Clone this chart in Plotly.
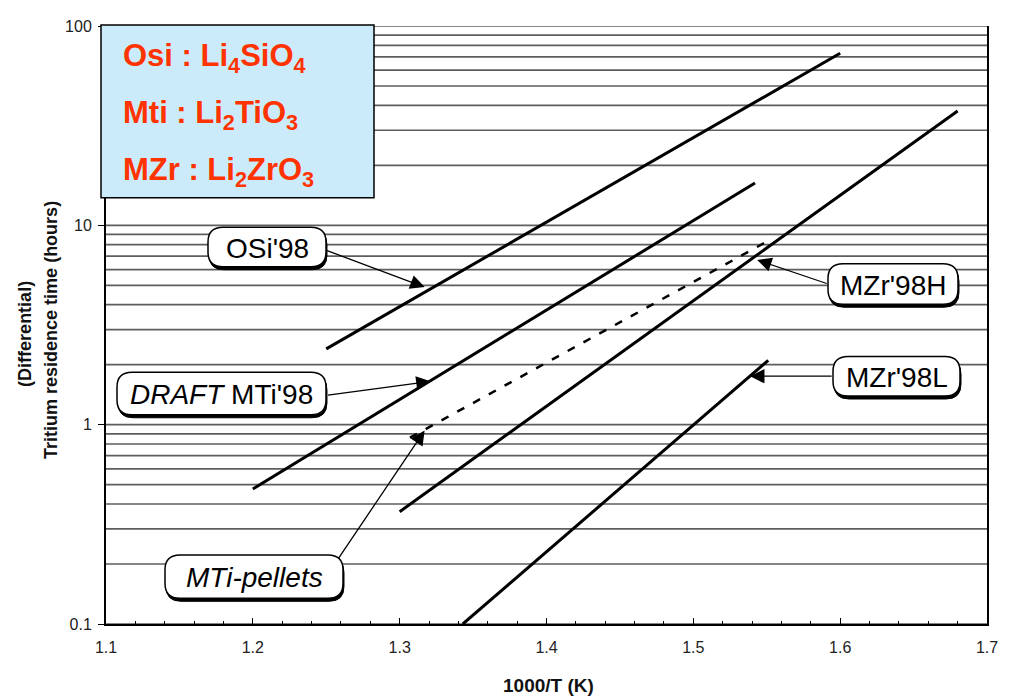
import math
import plotly.graph_objects as go

# ---- data ----
osi_x = [1.25, 1.60]
osi_y = [2.4, 73.0]
mti_x = [1.20, 1.542]
mti_y = [0.476, 16.3]
pellets_x = [1.307, 1.554]
pellets_y = [0.86, 8.6]
mzrh_x = [1.30, 1.68]
mzrh_y = [0.366, 37.5]
mzrl_x = [1.343, 1.551]
mzrl_y = [0.10, 2.10]

x_ticks = [1.1, 1.2, 1.3, 1.4, 1.5, 1.6, 1.7]
y_ticks = [0.1, 1, 10, 100]
y_ticktext = ["0.1", "1", "10", "100"]

# ---- geometry (page has an 8px body margin) ----
OFF = 8
W, H = 1002, 690
L, T = 106 - OFF, 18 - OFF
R = W - (987 - OFF)
B = H - (624 - OFF)
PW, PH = W - L - R, H - T - B


def px(xp):
    return (xp - OFF - L) / PW


def py(yp):
    return (H - B - (yp - OFF)) / PH


def rounded(x0, y0, x1, y1, r):
    def P(a, b):
        return f"{px(a):.5f},{py(b):.5f}"
    return (f"M {P(x0+r, y0)} L {P(x1-r, y0)} Q {P(x1, y0)} {P(x1, y0+r)} "
            f"L {P(x1, y1-r)} Q {P(x1, y1)} {P(x1-r, y1)} L {P(x0+r, y1)} "
            f"Q {P(x0, y1)} {P(x0, y1-r)} L {P(x0, y0+r)} Q {P(x0, y0)} {P(x0+r, y0)} Z")


fig = go.Figure()

# horizontal grid (log minor lines)
gx, gy = [], []
for e in (-1, 0, 1):
    for k in range(1, 10):
        v = k * 10 ** e
        gx += [1.1, 1.7, None]
        gy += [v, v, None]
gx += [1.1, 1.7, None]
gy += [100, 100, None]
fig.add_trace(go.Scatter(x=gx, y=gy, mode="lines", line=dict(color="#5e5e5e", width=1.7),
                         hoverinfo="skip", showlegend=False))

solid = dict(color="black", width=3)
for xs, ys in [(osi_x, osi_y), (mti_x, mti_y), (mzrh_x, mzrh_y), (mzrl_x, mzrl_y)]:
    fig.add_trace(go.Scatter(x=xs, y=ys, mode="lines", line=solid, showlegend=False))
fig.add_trace(go.Scatter(x=pellets_x, y=pellets_y, mode="lines",
                         line=dict(color="black", width=2.5, dash="8px,10px"), showlegend=False))

shapes = []
annotations = []

# legend box
shapes.append(dict(type="rect", xref="paper", yref="paper", x0=px(101), x1=px(374),
                   y0=py(192), y1=py(17), fillcolor="#CCEBFA", line=dict(color="black", width=1.5),
                   layer="above"))
red = "#FF3300"
legend_lines = ["Osi : Li<sub>4</sub>SiO<sub>4</sub>",
                "Mti : Li<sub>2</sub>TiO<sub>3</sub>",
                "MZr : Li<sub>2</sub>ZrO<sub>3</sub>"]
for i, t in enumerate(legend_lines):
    annotations.append(dict(text=f"<b>{t}</b>", xref="paper", yref="paper", x=px(121),
                            y=py(50 + 58 * i), xanchor="left", yanchor="middle", showarrow=False,
                            font=dict(family="Arial, Liberation Sans", size=31, color=red)))

# label boxes (pixel boxes)
label_font = dict(family="Arial, Liberation Sans", size=28, color="black")
boxes = [
    ("OSi'98", 208, 222, 326, 262),
    ("<i>DRAFT</i> MTi'98", 117, 369, 326, 412),
    ("<i>MTi-pellets</i>", 165, 554, 343, 598),
    ("MZr'98H", 828, 259, 958, 300),
    ("MZr'98L", 833, 353, 960, 393),
]
for text, x0, y0, x1, y1 in boxes:
    shapes.append(dict(type="path", xref="paper", yref="paper", path=rounded(x0 + 1, y0 + 3, x1 + 1, y1 + 3, 15),
                       fillcolor="black", line=dict(color="black", width=1), layer="above"))
    shapes.append(dict(type="path", xref="paper", yref="paper", path=rounded(x0, y0, x1, y1, 15),
                       fillcolor="white", line=dict(color="black", width=1.5), layer="above"))
    annotations.append(dict(text=text, xref="paper", yref="paper", x=px((x0 + x1) / 2),
                            y=py((y0 + y1) / 2 + 1), xanchor="center", yanchor="middle",
                            showarrow=False, font=label_font))

# arrows: tip (data x, data y), tail offset in pixels
arrows = [
    (1.317, 4.9, -99, -37),
    (1.321, 1.65, -104, 14),
    (1.317, 0.934, -87, 129),
    (1.5435, 6.7, 71, 24),
    (1.5387, 1.75, 83, 0),
]
for xt, yt, ax, ay in arrows:
    annotations.append(dict(text="", x=xt, y=math.log10(yt), xref="x", yref="y", ax=ax, ay=ay,
                            showarrow=True, arrowhead=2, arrowsize=2.2, arrowwidth=1.3,
                            arrowcolor="black"))

# axis titles
title_font = dict(family="Arial, Liberation Sans", size=18, color="#111")
annotations.append(dict(text="<b>1000/T (K)</b>", xref="paper", yref="paper", x=px(548), y=py(686),
                        xanchor="center", yanchor="middle", showarrow=False,
                        font=dict(family="Arial, Liberation Sans", size=19, color="#111")))
annotations.append(dict(text="<b>(Differential)</b>", xref="paper", yref="paper", x=px(25), y=py(330),
                        xanchor="center", yanchor="middle", showarrow=False, textangle=-90,
                        font=title_font))
annotations.append(dict(text="<b>Tritium residence time (hours)</b>", xref="paper", yref="paper",
                        x=px(51), y=py(326), xanchor="center", yanchor="middle", showarrow=False,
                        textangle=-90, font=title_font))

tick_font = dict(family="Arial, Liberation Sans", size=16, color="#222")
fig.update_layout(
    width=W, height=H, margin=dict(l=L, r=R, t=T, b=B),
    paper_bgcolor="white", plot_bgcolor="white",
    shapes=shapes, annotations=annotations, showlegend=False,
    xaxis=dict(range=[1.1, 1.7], tickvals=x_ticks, ticktext=[f"{v:.1f}" for v in x_ticks],
               showgrid=False, zeroline=False, showline=True, linecolor="black", linewidth=2,
               ticks="inside", ticklen=6, tickcolor="black", tickfont=tick_font,
               ticklabelstandoff=8,
               minor=dict(dtick=0.02, tick0=1.1, ticks="inside", ticklen=3, tickcolor="black", showgrid=False)),
    yaxis=dict(type="log", range=[-1, 2], tickvals=y_ticks, ticktext=y_ticktext,
               showgrid=False, zeroline=False, showline=True, linecolor="black", linewidth=2,
               mirror=True, ticks="outside", ticklen=6, tickcolor="black", tickfont=tick_font,
               ticklabelstandoff=3),
)

fig.write_html("out.html")
